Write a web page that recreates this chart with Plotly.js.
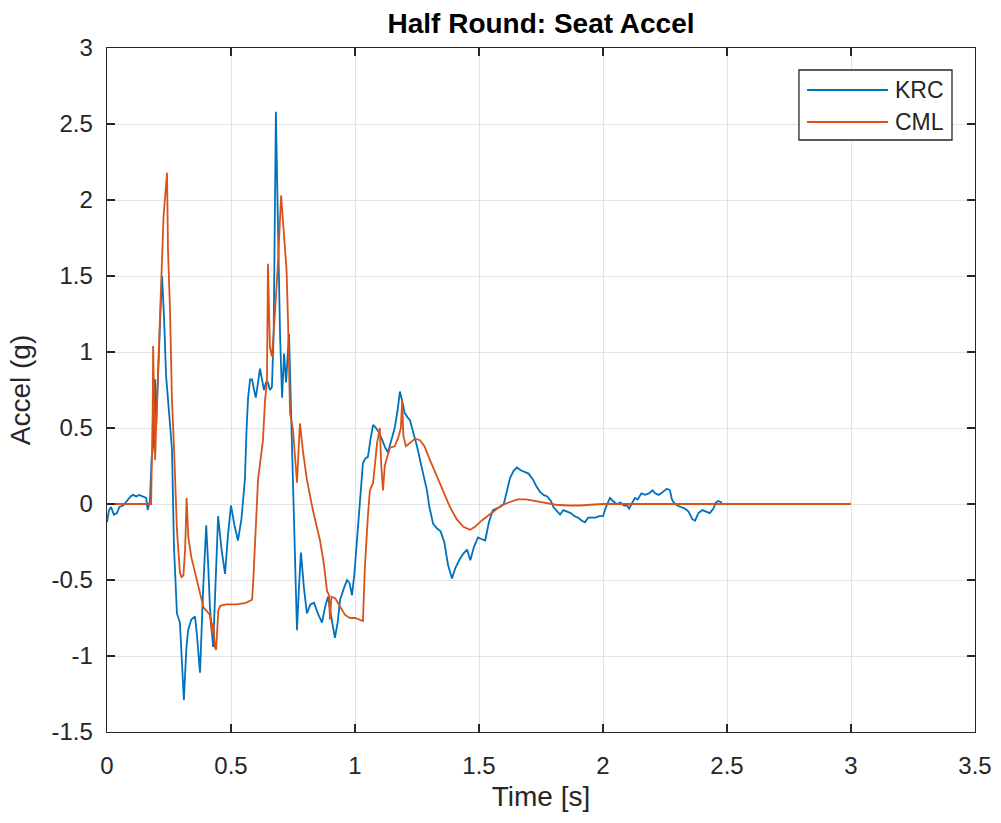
<!DOCTYPE html>
<html>
<head>
<meta charset="utf-8">
<script src="https://cdn.plot.ly/plotly-3.0.1.min.js"></script>
<style>
  html, body { margin: 0; padding: 0; background: #ffffff; }
  #chart { width: 1001px; height: 823px; }
</style>
</head>
<body>
<div id="chart"></div>
<script>
// KRC measured seat acceleration (time in s, accel in g)
const krcTime = [
  0, 0.008, 0.016, 0.028, 0.04, 0.05, 0.065, 0.08, 0.095, 0.105, 0.118, 0.13, 0.146, 0.158, 0.164, 0.168,
  0.173, 0.18, 0.186, 0.19, 0.194, 0.199, 0.205, 0.214, 0.222, 0.23, 0.238, 0.246, 0.254, 0.262, 0.27, 0.282,
  0.294, 0.31, 0.32, 0.327, 0.34, 0.355, 0.362, 0.375, 0.388, 0.4, 0.408, 0.415, 0.428, 0.438, 0.448, 0.462,
  0.476, 0.488, 0.5, 0.514, 0.528, 0.542, 0.556, 0.563, 0.569, 0.577, 0.585, 0.593, 0.6, 0.609, 0.617, 0.625,
  0.633, 0.641, 0.649, 0.657, 0.665, 0.672, 0.681, 0.69, 0.698, 0.706, 0.714, 0.722, 0.734, 0.742, 0.75, 0.766,
  0.774, 0.782, 0.794, 0.806, 0.82, 0.835, 0.85, 0.867, 0.879, 0.891, 0.905, 0.919, 0.93, 0.94, 0.954, 0.968,
  0.978, 0.988, 0.998, 1.008, 1.02, 1.032, 1.042, 1.052, 1.062, 1.073, 1.085, 1.097, 1.11, 1.122, 1.133, 1.145,
  1.16, 1.172, 1.181, 1.19, 1.2, 1.212, 1.222, 1.235, 1.25, 1.265, 1.28, 1.29, 1.3, 1.315, 1.33, 1.345,
  1.36, 1.375, 1.391, 1.405, 1.42, 1.435, 1.452, 1.465, 1.48, 1.496, 1.51, 1.525, 1.54, 1.556, 1.57, 1.585,
  1.6, 1.613, 1.625, 1.64, 1.653, 1.67, 1.685, 1.7, 1.718, 1.73, 1.746, 1.76, 1.775, 1.79, 1.8, 1.815,
  1.827, 1.84, 1.855, 1.87, 1.885, 1.9, 1.915, 1.927, 1.94, 1.955, 1.97, 1.985, 2.0, 2.012, 2.028, 2.04,
  2.055, 2.07, 2.085, 2.097, 2.105, 2.115, 2.129, 2.14, 2.155, 2.17, 2.185, 2.2, 2.21, 2.225, 2.24, 2.258,
  2.27, 2.278, 2.285, 2.3, 2.315, 2.33, 2.345, 2.36, 2.371, 2.385, 2.4, 2.415, 2.431, 2.445, 2.455, 2.464, 2.48
];
const krcAccel = [
  -0.12, -0.04, -0.02, -0.07, -0.06, -0.02, -0.01, 0.02, 0.05, 0.06, 0.05, 0.06, 0.05, 0.04, -0.04, -0.02,
  0.02, 0.3, 0.38, 0.55, 0.82, 0.53, 0.85, 1.2, 1.5, 1.23, 0.85, 0.68, 0.49, 0.36, -0.28, -0.72,
  -0.78, -1.29, -0.95, -0.83, -0.76, -0.74, -0.85, -1.11, -0.55, -0.14, -0.4, -0.68, -0.94, -0.45, -0.08, -0.3,
  -0.46, -0.2, -0.01, -0.14, -0.24, -0.1, 0.16, 0.5, 0.7, 0.82, 0.82, 0.75, 0.7, 0.8, 0.89, 0.82,
  0.75, 0.8, 0.8, 0.75, 0.77, 1.12, 2.58, 1.78, 1.1, 0.7, 0.99, 0.8, 1.12, 0.62, 0.1, -0.83,
  -0.55, -0.32, -0.55, -0.72, -0.66, -0.65, -0.72, -0.78, -0.68, -0.61, -0.75, -0.88, -0.78, -0.63, -0.56, -0.5,
  -0.52, -0.6, -0.45, -0.24, 0.05, 0.27, 0.3, 0.31, 0.42, 0.52, 0.5, 0.47, 0.42, 0.37, 0.34, 0.42,
  0.5, 0.62, 0.74, 0.68, 0.6, 0.57, 0.55, 0.47, 0.38, 0.27, 0.16, 0.09, -0.02, -0.13, -0.16, -0.18,
  -0.25, -0.4, -0.49, -0.42, -0.37, -0.33, -0.3, -0.37, -0.28, -0.22, -0.23, -0.24, -0.12, -0.04, -0.03, -0.02,
  0.0, 0.09, 0.17, 0.22, 0.24, 0.22, 0.21, 0.2, 0.16, 0.12, 0.08, 0.06, 0.05, 0.02, -0.02, -0.05,
  -0.07, -0.04, -0.05, -0.06, -0.08, -0.09, -0.11, -0.12, -0.09, -0.09, -0.09, -0.08, -0.08, -0.02, 0.04, 0.02,
  0.0, 0.01, -0.01, -0.01, -0.03, 0.0, 0.04, 0.03, 0.07, 0.06, 0.07, 0.09, 0.07, 0.06, 0.08, 0.1,
  0.09, 0.03, 0.01, -0.01, -0.02, -0.03, -0.05, -0.1, -0.11, -0.06, -0.04, -0.05, -0.06, -0.03, 0.01, 0.02, 0.01
];

// CML simulated seat acceleration
const cmlTime = [
  0, 0.17, 0.178, 0.184, 0.186, 0.19, 0.194, 0.2, 0.206, 0.214, 0.228, 0.242, 0.246, 0.254, 0.262, 0.27,
  0.282, 0.294, 0.3, 0.308, 0.315, 0.321, 0.328, 0.34, 0.362, 0.375, 0.389, 0.405, 0.415, 0.423, 0.428, 0.435,
  0.44, 0.449, 0.456, 0.48, 0.524, 0.56, 0.585, 0.59, 0.609, 0.629, 0.637, 0.645, 0.649, 0.657, 0.665, 0.675,
  0.69, 0.702, 0.71, 0.724, 0.73, 0.738, 0.75, 0.766, 0.778, 0.79, 0.806, 0.83, 0.859, 0.875, 0.887, 0.895,
  0.899, 0.905, 0.92, 0.94, 0.96, 0.98, 1.0, 1.032, 1.04, 1.052, 1.06, 1.073, 1.089, 1.1, 1.106, 1.113,
  1.12, 1.13, 1.141, 1.16, 1.175, 1.185, 1.19, 1.195, 1.205, 1.22, 1.242, 1.262, 1.28, 1.302, 1.323, 1.343,
  1.363, 1.383, 1.41, 1.437, 1.464, 1.484, 1.51, 1.533, 1.56, 1.59, 1.62, 1.655, 1.69, 1.72, 1.76, 1.81,
  1.86, 1.907, 1.95, 2.0, 3.0
];
const cmlAccel = [
  0, 0, 0, 0.6, 1.04, 0.68, 0.29, 0.6, 0.9, 1.23, 1.89, 2.18, 1.67, 1.28, 0.68, 0.38,
  -0.17, -0.45, -0.48, -0.47, -0.3, 0.04, -0.22, -0.35, -0.5, -0.6, -0.68, -0.71, -0.73, -0.85, -0.78, -0.94,
  -0.96, -0.7, -0.67, -0.66, -0.66, -0.65, -0.63, -0.5, 0.16, 0.42, 0.68, 0.8, 1.58, 1.03, 0.97, 1.2,
  1.6, 2.03, 1.87, 1.54, 1.2, 0.6, 0.49, 0.14, 0.53, 0.35, 0.16, -0.04, -0.24, -0.4, -0.57, -0.6,
  -0.76, -0.61, -0.62, -0.68, -0.73, -0.75, -0.75, -0.77, -0.41, -0.08, 0.09, 0.14, 0.4, 0.5, 0.25, 0.09,
  0.25, 0.31, 0.37, 0.38, 0.44, 0.5, 0.68, 0.45, 0.38, 0.4, 0.43, 0.42, 0.38, 0.29, 0.21, 0.14,
  0.06, -0.02, -0.1, -0.15, -0.17, -0.15, -0.11, -0.08, -0.05, -0.01, 0.01, 0.03, 0.03, 0.02, 0.01, -0.005,
  -0.01, -0.01, -0.005, 0, 0
];

const xTicks = [0, 0.5, 1, 1.5, 2, 2.5, 3, 3.5];
const yTicks = [-1.5, -1, -0.5, 0, 0.5, 1, 1.5, 2, 2.5, 3];
const seriesNames = ['KRC', 'CML'];
const seriesColors = ['#0072BD', '#D95319'];

const axisColor = '#262626';
const gridColor = '#e3e3e3';
const fontFamily = '"Liberation Sans", Arial, Helvetica, sans-serif';

const traces = [
  {
    x: krcTime, y: krcAccel, name: seriesNames[0], type: 'scatter', mode: 'lines',
    line: { color: seriesColors[0], width: 1.8 }, showlegend: false
  },
  {
    x: cmlTime, y: cmlAccel, name: seriesNames[1], type: 'scatter', mode: 'lines',
    line: { color: seriesColors[1], width: 1.8 }, showlegend: false
  }
];

// Boxed legend in the upper right corner with long line samples
const legendBox = { x0: 0.7972, x1: 0.9735, y0: 0.8655, y1: 0.9678 };
const legendRows = [0.9386, 0.8918];
const shapes = [
  {
    type: 'rect', xref: 'paper', yref: 'paper',
    x0: legendBox.x0, x1: legendBox.x1, y0: legendBox.y0, y1: legendBox.y1,
    line: { color: axisColor, width: 1.3 }, fillcolor: '#ffffff', layer: 'above'
  }
];
const annotations = [];
seriesNames.forEach((name, i) => {
  shapes.push({
    type: 'line', xref: 'paper', yref: 'paper',
    x0: 0.8065, x1: 0.8998, y0: legendRows[i], y1: legendRows[i],
    line: { color: seriesColors[i], width: 1.8 }, layer: 'above'
  });
  annotations.push({
    xref: 'paper', yref: 'paper', x: 0.9055, y: legendRows[i],
    xanchor: 'left', yanchor: 'middle', showarrow: false, text: name,
    font: { family: fontFamily, size: 23, color: axisColor }
  });
});

const commonAxis = {
  showgrid: true, gridcolor: gridColor, gridwidth: 1,
  zeroline: false,
  showline: true, linecolor: axisColor, linewidth: 1.3,
  mirror: 'ticks', ticks: 'inside', ticklen: 8, tickwidth: 1.3, tickcolor: axisColor,
  tickfont: { family: fontFamily, size: 24, color: axisColor }
};

const layout = {
  width: 1001, height: 823,
  paper_bgcolor: '#ffffff', plot_bgcolor: '#ffffff',
  margin: { l: 107, r: 26, t: 48, b: 91 },
  font: { family: fontFamily, color: axisColor },
  title: {
    text: '<b>Half Round: Seat Accel</b>',
    font: { family: fontFamily, size: 28, color: '#000000' },
    x: 0.5, xanchor: 'center', xref: 'paper', y: 0.972, yanchor: 'middle'
  },
  xaxis: Object.assign({}, commonAxis, {
    range: [0, 3.5], tickvals: xTicks, ticktext: xTicks.map(String),
    ticklabelstandoff: 12,
    title: { text: 'Time [s]', font: { family: fontFamily, size: 28, color: axisColor }, standoff: 8 }
  }),
  yaxis: Object.assign({}, commonAxis, {
    range: [-1.5, 3], tickvals: yTicks, ticktext: yTicks.map(String),
    ticklabelstandoff: 8,
    title: { text: 'Accel (g)', font: { family: fontFamily, size: 28, color: axisColor }, standoff: 12 }
  }),
  shapes: shapes,
  annotations: annotations
};

Plotly.newPlot('chart', traces, layout, { displayModeBar: false, staticPlot: true });
</script>
</body>
</html>
